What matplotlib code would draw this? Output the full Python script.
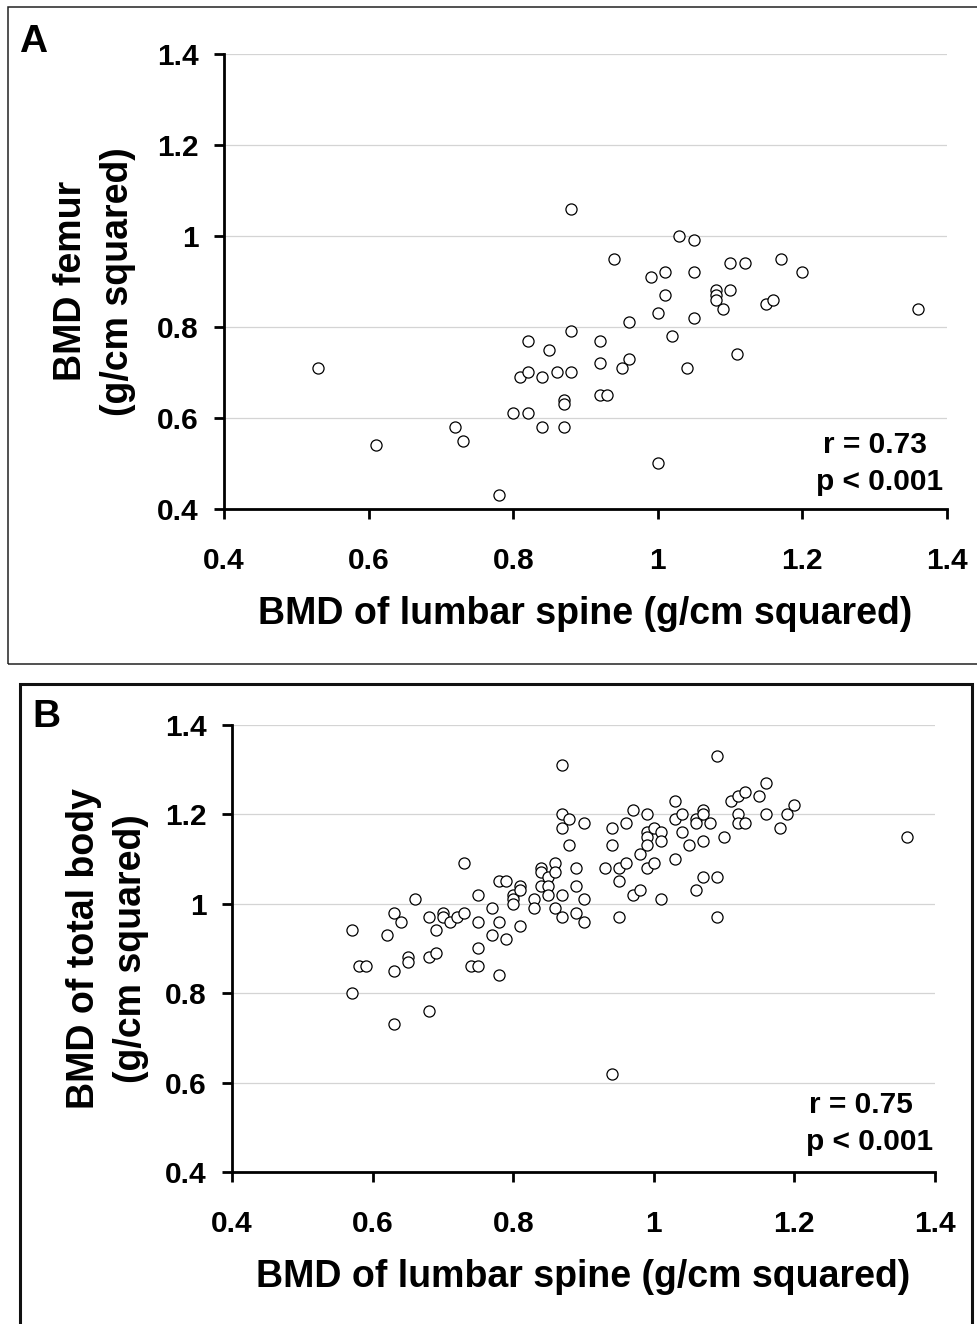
import matplotlib
matplotlib.use("Agg")
import matplotlib.pyplot as plt
from matplotlib.patches import Rectangle

plt.rcParams['font.family'] = ['Liberation Sans', 'DejaVu Sans']
plt.rcParams['font.weight'] = 'bold'

# ---------------- Data ----------------
# Panel A: lumbar spine BMD vs femur BMD
spine_a = [0.53, 0.61, 0.72, 0.73, 0.78, 0.80, 0.82, 0.81, 0.82, 0.82,
           0.84, 0.84, 0.85, 0.86, 0.87, 0.87, 0.87, 0.88, 0.88, 0.88,
           0.92, 0.92, 0.92, 0.93, 0.94, 0.96, 0.96, 0.95, 0.99, 1.01,
           1.01, 1.00, 1.02, 1.00, 1.03, 1.05, 1.05, 1.05, 1.04, 1.08,
           1.08, 1.08, 1.10, 1.09, 1.10, 1.12, 1.11, 1.15, 1.16, 1.17,
           1.20, 1.36]
femur_a = [0.71, 0.54, 0.58, 0.55, 0.43, 0.61, 0.61, 0.69, 0.70, 0.77,
           0.69, 0.58, 0.75, 0.70, 0.64, 0.63, 0.58, 0.70, 0.79, 1.06,
           0.77, 0.72, 0.65, 0.65, 0.95, 0.81, 0.73, 0.71, 0.91, 0.92,
           0.87, 0.83, 0.78, 0.50, 1.00, 0.99, 0.92, 0.82, 0.71, 0.88,
           0.87, 0.86, 0.88, 0.84, 0.94, 0.94, 0.74, 0.85, 0.86, 0.95,
           0.92, 0.84]

# Panel B: lumbar spine BMD vs total body BMD
spine_b = [0.57, 0.57, 0.58, 0.59, 0.62, 0.63, 0.63, 0.63, 0.64, 0.65,
           0.65, 0.66, 0.68, 0.68, 0.68, 0.69, 0.69, 0.70, 0.70, 0.71,
           0.72, 0.73, 0.73, 0.74, 0.75, 0.75, 0.75, 0.75, 0.77, 0.77,
           0.78, 0.79, 0.78, 0.78, 0.79, 0.80, 0.80, 0.80, 0.81, 0.81,
           0.81, 0.83, 0.83, 0.84, 0.84, 0.84, 0.85, 0.85, 0.85, 0.86,
           0.86, 0.86, 0.87, 0.87, 0.87, 0.88, 0.88, 0.87, 0.87, 0.89,
           0.89, 0.89, 0.90, 0.90, 0.90,
           0.93, 0.94, 0.94, 0.94, 0.95, 0.95, 0.95, 0.96, 0.96, 0.97,
           0.97, 0.98, 0.98, 0.99, 0.99, 0.99, 0.99, 0.99, 1.00, 1.00,
           1.01, 1.01, 1.01, 1.03, 1.03, 1.03, 1.04, 1.04, 1.05, 1.06,
           1.06, 1.06, 1.07, 1.07, 1.07, 1.07, 1.08, 1.09, 1.09, 1.09,
           1.10, 1.11, 1.12, 1.13, 1.12, 1.12, 1.13, 1.15, 1.16, 1.16,
           1.18, 1.19, 1.20, 1.36]
body_b = [0.94, 0.80, 0.86, 0.86, 0.93, 0.98, 0.85, 0.73, 0.96, 0.88,
          0.87, 1.01, 0.97, 0.88, 0.76, 0.94, 0.89, 0.98, 0.97, 0.96,
          0.97, 0.98, 1.09, 0.86, 0.86, 1.02, 0.96, 0.90, 0.99, 0.93,
          1.05, 1.05, 0.96, 0.84, 0.92, 1.02, 1.01, 1.00, 1.04, 1.03,
          0.95, 1.01, 0.99, 1.08, 1.07, 1.04, 1.06, 1.04, 1.02, 1.09,
          1.07, 0.99, 1.31, 1.20, 1.17, 1.19, 1.13, 1.02, 0.97, 1.08,
          1.04, 0.98, 1.18, 1.01, 0.96,
          1.08, 1.17, 1.13, 0.62, 1.08, 1.05, 0.97, 1.18, 1.09, 1.21,
          1.02, 1.03, 1.11, 1.20, 1.16, 1.15, 1.13, 1.08, 1.17, 1.09,
          1.16, 1.14, 1.01, 1.23, 1.19, 1.10, 1.20, 1.16, 1.13, 1.19,
          1.18, 1.03, 1.21, 1.20, 1.14, 1.06, 1.18, 1.33, 1.06, 0.97,
          1.15, 1.23, 1.24, 1.25, 1.20, 1.18, 1.18, 1.24, 1.27, 1.20,
          1.17, 1.20, 1.22, 1.15]

ticks = [0.4, 0.6, 0.8, 1.0, 1.2, 1.4]
tick_labels = ["0.4", "0.6", "0.8", "1", "1.2", "1.4"]
xlabel_text = "BMD of lumbar spine (g/cm squared)"
ylabel_a = "BMD femur\n(g/cm squared)"
ylabel_b = "BMD of total body\n(g/cm squared)"
stats_a = ("r = 0.73", "p < 0.001")
stats_b = ("r = 0.75", "p < 0.001")

# ---------------- Figure ----------------
W, H = 978, 1324
fig = plt.figure(figsize=(W / 100, H / 100), dpi=100)

def px_axes(l, t, r, b):
    return fig.add_axes([l / W, 1 - b / H, (r - l) / W, (b - t) / H])

# Panel frames
fig.patches.append(Rectangle((8 / W, 1 - 664 / H), 1.2, (664 - 7) / H,
                             transform=fig.transFigure, fill=False,
                             edgecolor='#222222', linewidth=1.1))
fig.patches.append(Rectangle((20.5 / W, -0.05), (972.5 - 20.5) / W,
                             (1 - 683.5 / H) + 0.05,
                             transform=fig.transFigure, fill=False,
                             edgecolor='#111111', linewidth=2.2))

def style(ax, xs, ys, ylabel, stats, ylab_x, xlab_y, stat_pos):
    ax.set_axisbelow(True)
    ax.scatter(xs, ys, s=64, facecolors='white', edgecolors='black',
               linewidths=0.9, zorder=3)
    ax.set_xlim(0.4, 1.4)
    ax.set_ylim(0.4, 1.4)
    ax.set_xticks(ticks)
    ax.set_xticklabels(tick_labels)
    ax.set_yticks(ticks)
    ax.set_yticklabels(tick_labels)
    for s in ['top', 'right']:
        ax.spines[s].set_visible(False)
    for s in ['left', 'bottom']:
        ax.spines[s].set_linewidth(2.0)
        ax.spines[s].set_color('black')
    ax.yaxis.grid(True, color='#d4d4d4', linewidth=0.9)
    ax.xaxis.grid(False)
    ax.tick_params(axis='both', direction='out', length=7.5, width=2.0,
                   labelsize=21.5, colors='black')
    ax.tick_params(axis='x', pad=20)
    ax.tick_params(axis='y', pad=11)
    for lab in ax.get_xticklabels() + ax.get_yticklabels():
        lab.set_fontweight('bold')
    ax.set_xlabel(xlabel_text, fontsize=27, fontweight='bold')
    ax.xaxis.set_label_coords(0.5, xlab_y)
    ax.set_ylabel(ylabel, fontsize=27, fontweight='bold', linespacing=1.4)
    ax.yaxis.set_label_coords(ylab_x, 0.5)
    (rx, ry), (qx, qy) = stat_pos
    ax.text(rx, ry, stats[0], transform=ax.transAxes, ha='right',
            va='baseline', fontsize=21.5, fontweight='bold')
    ax.text(qx, qy, stats[1], transform=ax.transAxes, ha='right',
            va='baseline', fontsize=21.5, fontweight='bold')

axA = px_axes(224, 53.7, 947, 509)
style(axA, spine_a, femur_a, ylabel_a, stats_a,
      ylab_x=-0.122, xlab_y=-0.19,
      stat_pos=((0.972, 0.123), (0.9945, 0.0417)))

axB = px_axes(232, 724.7, 935, 1172)
style(axB, spine_b, body_b, ylabel_b, stats_b,
      ylab_x=-0.118, xlab_y=-0.194,
      stat_pos=((0.9687, 0.132), (0.9967, 0.049)))

fig.text(19 / W, 1 - 52 / H, "A", fontsize=28, fontweight='bold',
         ha='left', va='baseline')
fig.text(32 / W, 1 - 727 / H, "B", fontsize=28, fontweight='bold',
         ha='left', va='baseline')

fig.savefig("out.png", dpi=100, facecolor='white')
